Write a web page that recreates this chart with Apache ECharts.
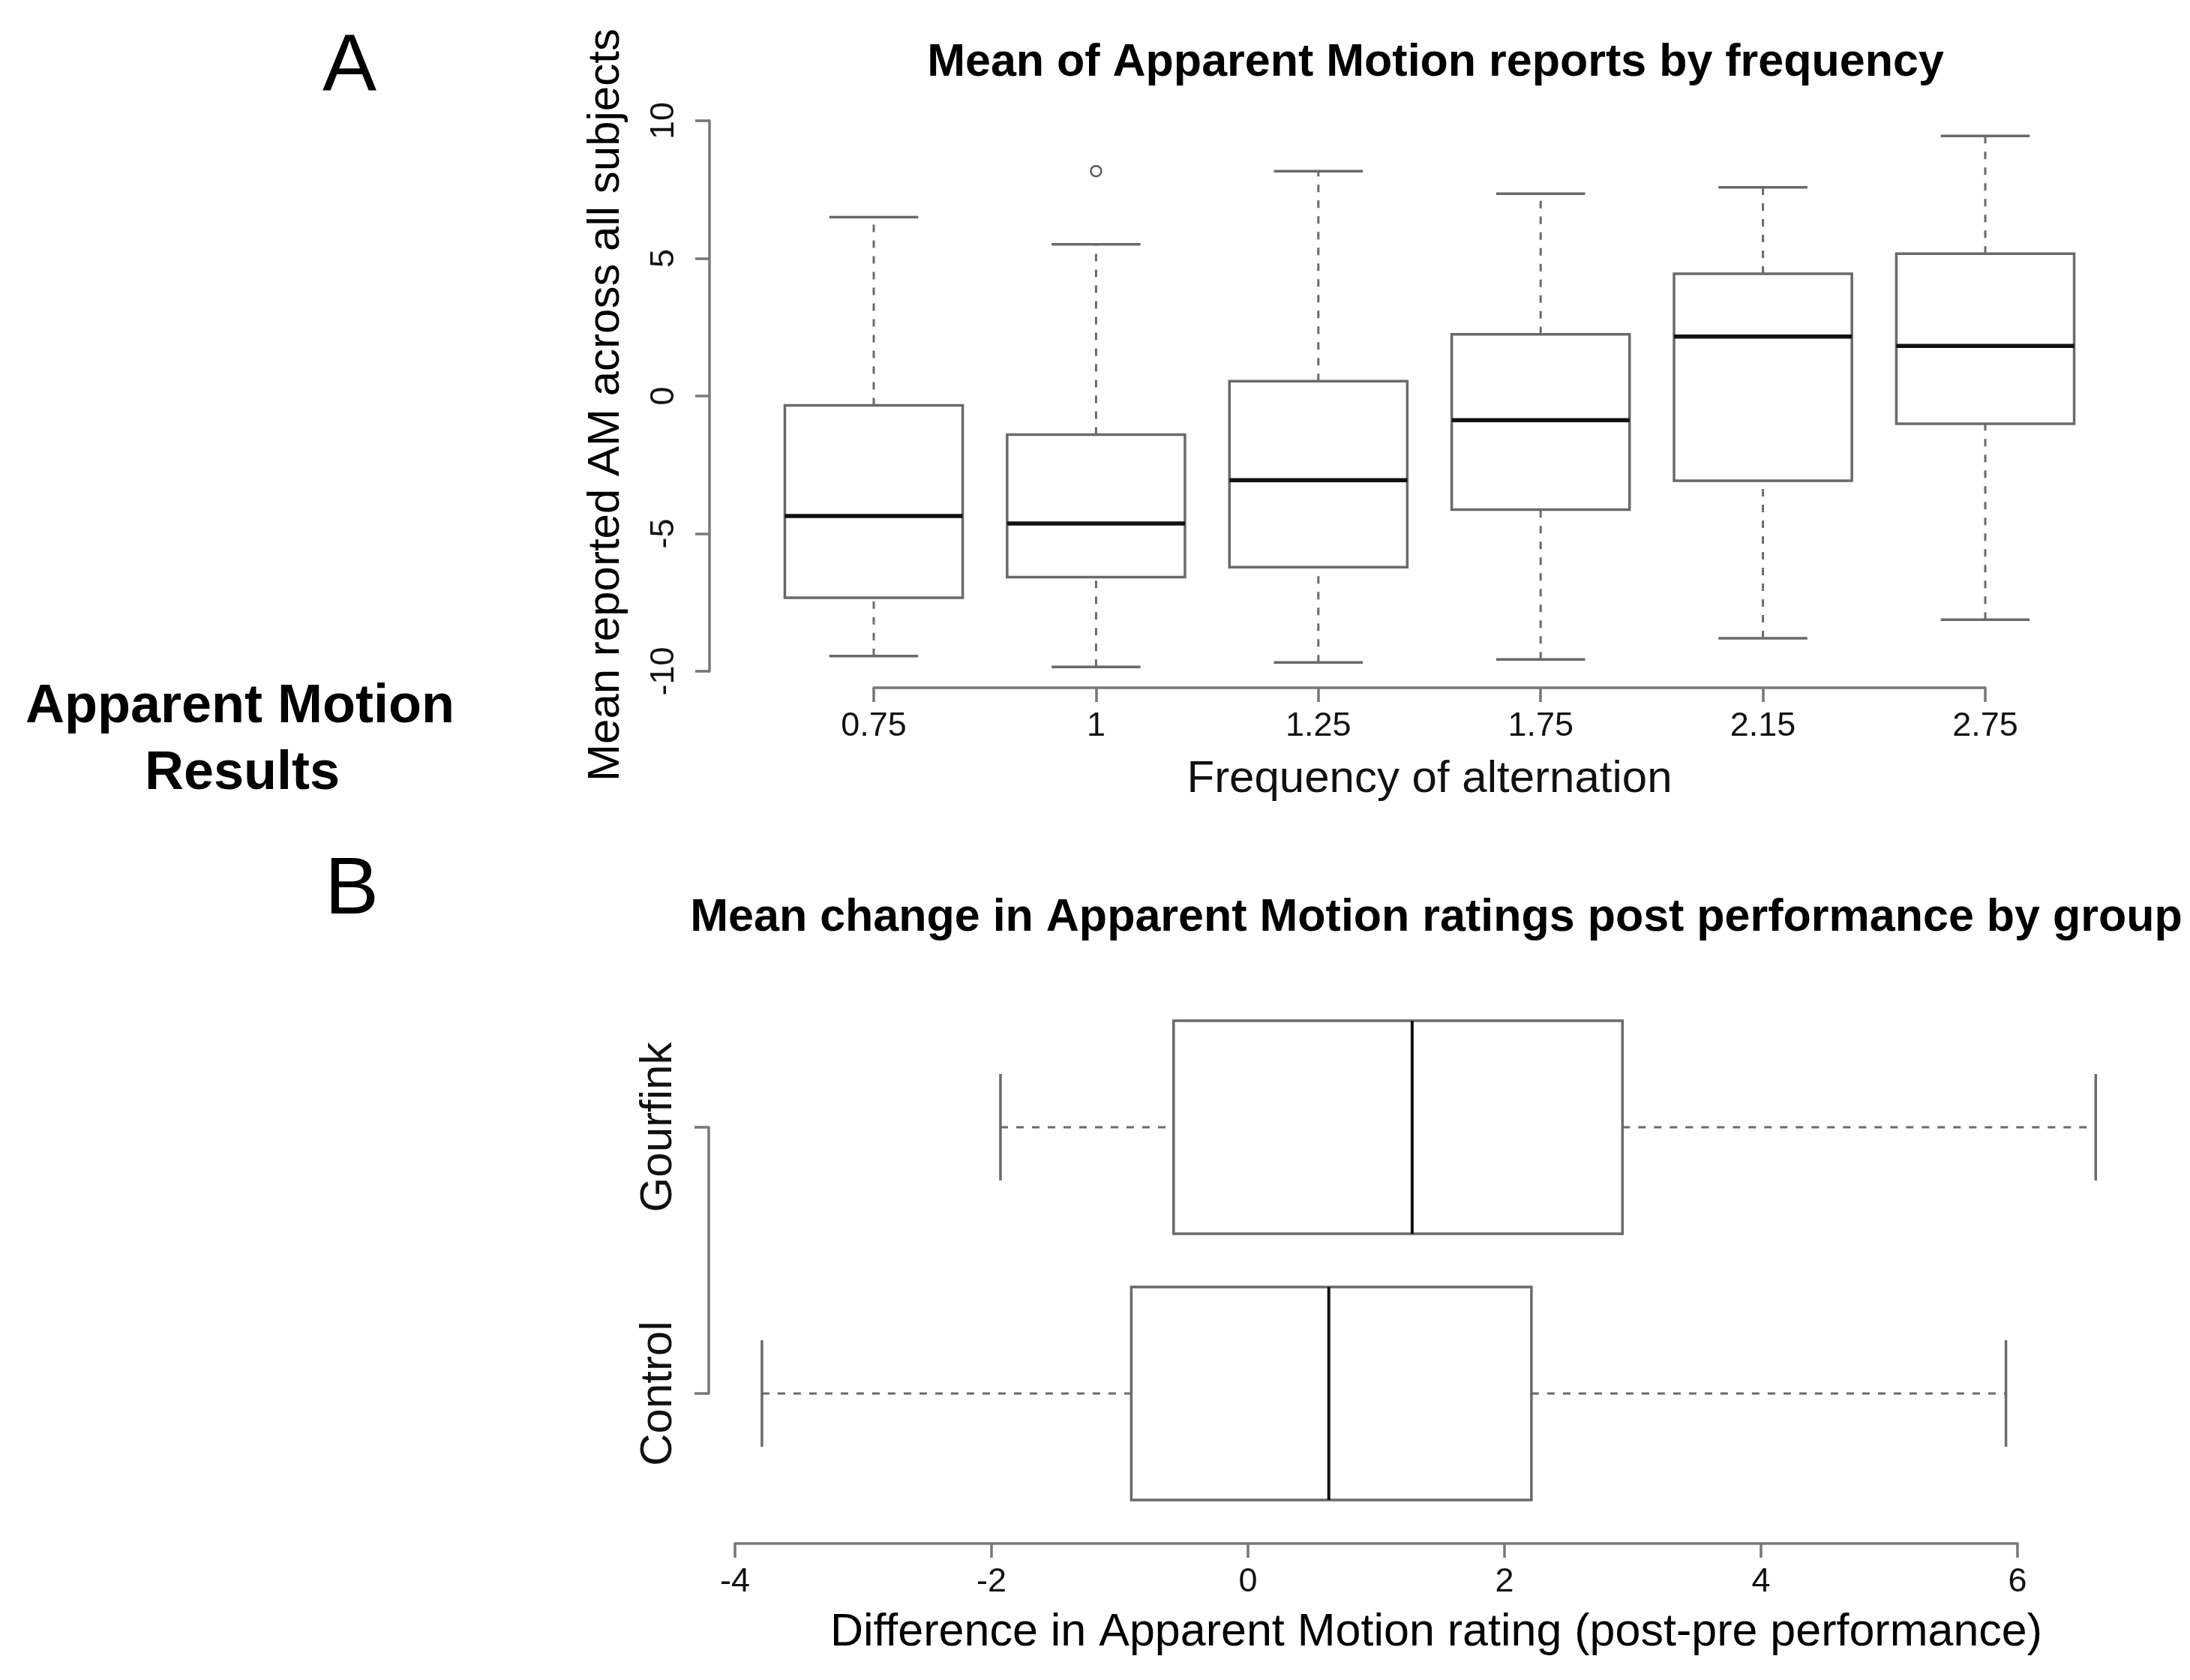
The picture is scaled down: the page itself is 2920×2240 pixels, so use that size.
<!DOCTYPE html>
<html>
<head>
<meta charset="utf-8">
<title>Apparent Motion Results</title>
<script src="https://cdn.jsdelivr.net/npm/echarts@6/dist/echarts.min.js"></script>
<style>
  html, body { margin: 0; padding: 0; background: #fff; }
  #chart { width: 2920px; height: 2240px; }
</style>
</head>
<body>
<div id="chart"></div>
<script>
// Panel A: mean AM reports per alternation frequency (box stats)
const freqLabels = ['0.75', '1', '1.25', '1.75', '2.15', '2.75'];
const freqLow    = [-9.45, -9.84, -9.68, -9.57, -8.80, -8.13];
const freqQ1     = [-7.33, -6.58, -6.22, -4.13, -3.08, -1.01];
const freqMedian = [-4.36, -4.63, -3.06, -0.88, 2.16, 1.82];
const freqQ3     = [-0.34, -1.40, 0.54, 2.24, 4.44, 5.17];
const freqHigh   = [6.50, 5.51, 8.17, 7.35, 7.58, 9.45];
// [category index, value]
const freqOutliers = [[1, 8.17]];

// Panel B: change in AM rating post performance, per group
const groupLabels = ['Control', 'Gourfink'];
const groupLow    = [-3.79, -1.93];
const groupQ1     = [-0.91, -0.58];
const groupMedian = [0.63, 1.28];
const groupQ3     = [2.21, 2.92];
const groupHigh   = [5.91, 6.61];

const font = "'Liberation Sans', Arial, Helvetica, sans-serif";
const axisColor = '#777';
const boxColor = '#6a6a6a';
const textColor = '#111';

const chart = echarts.init(document.getElementById('chart'));

function buildRows(low, q1, med, q3, high) {
  return low.map((v, i) => [i, v, q1[i], med[i], q3[i], high[i]]);
}

// R-style box: dashed whiskers, solid staples, white box, heavy median
function renderBox(api, horizontal, medianWidth) {
  const cat = api.value(0);
  const pt = (v) => horizontal ? api.coord([v, cat]) : api.coord([cat, v]);
  const band = horizontal ? api.size([0, 1])[1] : api.size([1, 0])[0];
  const half = band * 0.4;

  const low = pt(api.value(1));
  const q1 = pt(api.value(2));
  const med = pt(api.value(3));
  const q3 = pt(api.value(4));
  const high = pt(api.value(5));

  const across = (p, len) => horizontal
    ? { x1: p[0], y1: p[1] - len, x2: p[0], y2: p[1] + len }
    : { x1: p[0] - len, y1: p[1], x2: p[0] + len, y2: p[1] };
  const whisker = (a, b) => ({
    type: 'line',
    shape: { x1: a[0], y1: a[1], x2: b[0], y2: b[1] },
    style: { stroke: boxColor, lineWidth: 3, lineDash: [10, 11] }
  });
  const staple = (p) => ({
    type: 'line',
    shape: across(p, half / 2),
    style: { stroke: boxColor, lineWidth: 3.5 }
  });

  const rect = horizontal
    ? { x: q1[0], y: q1[1] - half, width: q3[0] - q1[0], height: half * 2 }
    : { x: q3[0] - half, y: q3[1], width: half * 2, height: q1[1] - q3[1] };

  return {
    type: 'group',
    children: [
      whisker(low, q1),
      whisker(q3, high),
      staple(low),
      staple(high),
      { type: 'rect', shape: rect, style: { fill: '#fff', stroke: boxColor, lineWidth: 3.5 } },
      { type: 'line', shape: across(med, half), style: { stroke: textColor, lineWidth: medianWidth } }
    ]
  };
}

// axis lines stay at the plot edge, never at zero
const axisLine = { show: true, onZero: false, lineStyle: { color: axisColor, width: 3.5 } };
const axisTick = { show: true, length: 19, lineStyle: { color: axisColor, width: 3.5 } };

function text(str, x, y, size, weight, rotation) {
  return {
    type: 'text',
    x: x,
    y: y,
    rotation: rotation || 0,
    style: {
      text: str,
      fontSize: size,
      fontWeight: weight,
      fontFamily: font,
      fill: '#000',
      align: 'center',
      verticalAlign: 'middle'
    }
  };
}

chart.setOption({
  animation: false,
  backgroundColor: '#fff',
  textStyle: { fontFamily: font },
  grid: [
    { left: 1165, top: 161, width: 1482, height: 734 },
    { left: 980, top: 1503, width: 1710, height: 355 }
  ],
  xAxis: [
    {
      gridIndex: 0,
      type: 'category',
      data: freqLabels,
      boundaryGap: false,
      offset: 22,
      name: 'Frequency of alternation',
      nameLocation: 'middle',
      nameGap: 92,
      nameTextStyle: { fontSize: 60, color: textColor, fontFamily: font },
      axisLine: axisLine,
      axisTick: axisTick,
      axisLabel: { fontSize: 45, color: textColor, fontFamily: font, margin: 29, interval: 0 },
      splitLine: { show: false }
    },
    {
      gridIndex: 1,
      type: 'value',
      min: -4,
      max: 6,
      interval: 2,
      offset: 200,
      axisLine: axisLine,
      axisTick: axisTick,
      axisLabel: { fontSize: 45, color: textColor, fontFamily: font, margin: 29, showMinLabel: true, showMaxLabel: true },
      splitLine: { show: false }
    }
  ],
  yAxis: [
    {
      gridIndex: 0,
      type: 'value',
      min: -10,
      max: 10,
      interval: 5,
      offset: 219,
      axisLine: axisLine,
      axisTick: axisTick,
      axisLabel: { rotate: 90, fontSize: 45, color: textColor, fontFamily: font, margin: 38, showMinLabel: true, showMaxLabel: true },
      splitLine: { show: false }
    },
    {
      gridIndex: 1,
      type: 'category',
      data: groupLabels,
      boundaryGap: false,
      offset: 35,
      axisLine: axisLine,
      axisTick: axisTick,
      axisLabel: { rotate: 90, fontSize: 60, color: textColor, fontFamily: font, margin: 37, interval: 0 },
      splitLine: { show: false }
    }
  ],
  series: [
    {
      type: 'custom',
      xAxisIndex: 0,
      yAxisIndex: 0,
      encode: { x: 0, y: [1, 2, 3, 4, 5] },
      data: buildRows(freqLow, freqQ1, freqMedian, freqQ3, freqHigh),
      renderItem: (params, api) => renderBox(api, false, 5.5)
    },
    {
      type: 'scatter',
      xAxisIndex: 0,
      yAxisIndex: 0,
      data: freqOutliers,
      symbol: 'circle',
      symbolSize: 14,
      itemStyle: { color: '#fff', borderColor: '#333', borderWidth: 2.5 }
    },
    {
      type: 'custom',
      xAxisIndex: 1,
      yAxisIndex: 1,
      encode: { x: [1, 2, 3, 4, 5], y: 0 },
      data: buildRows(groupLow, groupQ1, groupMedian, groupQ3, groupHigh),
      renderItem: (params, api) => renderBox(api, true, 4)
    }
  ],
  graphic: [
    text('A', 466, 91, 108, 'normal'),
    text('B', 469, 1188, 108, 'normal'),
    text('Apparent Motion', 320, 943, 72, 'bold'),
    text('Results', 323, 1032, 72, 'bold'),
    text('Mean of Apparent Motion reports by frequency', 1914, 84, 61, 'bold'),
    text('Mean change in Apparent Motion ratings post performance by group', 1915, 1224, 61, 'bold'),
    text('Mean reported AM across all subjects', 808, 540, 60, 'normal', Math.PI / 2),
    // R centres this label on the whole plot region, not on the tick span
    text('Difference in Apparent Motion rating (post-pre performance)', 1915, 2177, 61, 'normal')
  ]
});
</script>
</body>
</html>
